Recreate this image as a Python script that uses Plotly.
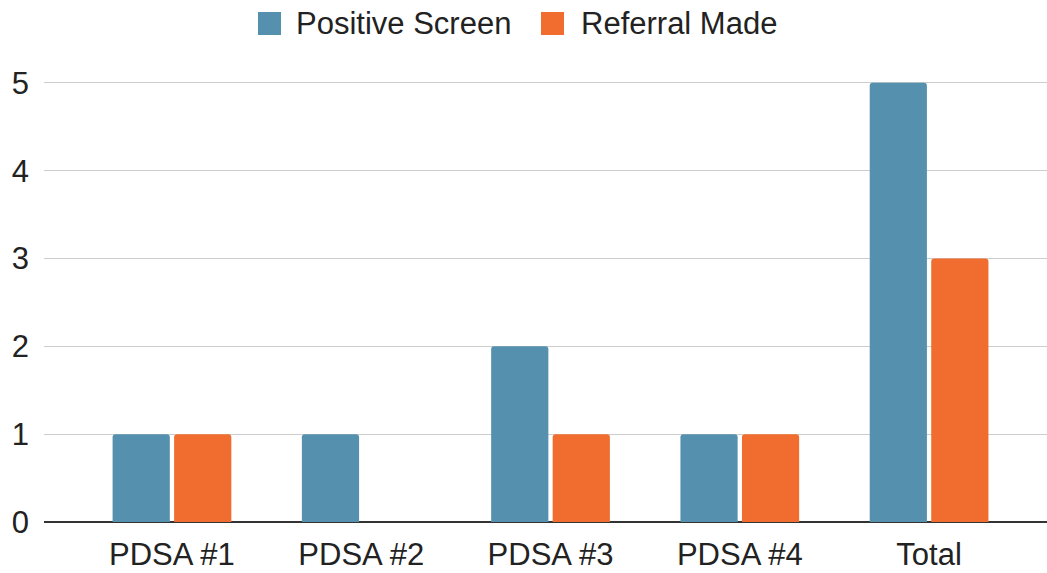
import plotly.graph_objects as go

categories = ["PDSA #1", "PDSA #2", "PDSA #3", "PDSA #4", "Total"]
positive_screen = [1, 1, 2, 1, 5]
referral_made = [1, 0, 1, 1, 3]
series_names = ["Positive Screen", "Referral Made"]
y_ticks = [0, 1, 2, 3, 4, 5]

BLUE = "#5591AE"
ORANGE = "#F06D2F"
TEXT = "#222222"
FONT = "Arial, Liberation Sans, sans-serif"
FS = 31

W, H = 1047, 573
ML, MR, MT, MB = 44, 0, 60, 51
PW, PH = W - ML - MR, H - MT - MB


def px_x(x):
    return (x - ML) / PW


def px_y(y):
    return (H - MB - y) / PH


fig = go.Figure()
fig.add_trace(go.Bar(x=categories, y=positive_screen, name=series_names[0],
                     marker=dict(color=BLUE, line=dict(width=0))))
fig.add_trace(go.Bar(x=categories, y=referral_made, name=series_names[1],
                     marker=dict(color=ORANGE, line=dict(width=0))))

# custom legend: larger swatches than plotly's built-in bar icons
legend_items = [(258, 281, 294, series_names[0], BLUE),
                (541, 564, 579, series_names[1], ORANGE)]
shapes, annotations = [], []
for x0, x1, tx, label, color in legend_items:
    shapes.append(dict(type="rect", xref="paper", yref="paper",
                       x0=px_x(x0), x1=px_x(x1), y0=px_y(35), y1=px_y(12),
                       fillcolor=color, line=dict(width=0)))
    annotations.append(dict(xref="paper", yref="paper", x=px_x(tx), y=px_y(23.5),
                            xanchor="left", yanchor="middle", showarrow=False,
                            text=label, font=dict(size=FS, color=TEXT, family=FONT)))

fig.update_layout(
    width=W, height=H,
    margin=dict(l=ML, r=MR, t=MT, b=MB),
    paper_bgcolor="white", plot_bgcolor="white",
    barmode="group", bargap=0.35, bargroupgap=0.07, barcornerradius=3,
    showlegend=False,
    font=dict(family=FONT, size=FS, color=TEXT),
    shapes=shapes, annotations=annotations,
    xaxis=dict(range=[-0.676, 4.623], showgrid=False, zeroline=False,
               showline=False, ticks="", ticklabelstandoff=11,
               tickfont=dict(size=FS, color=TEXT)),
    yaxis=dict(range=[0, 5.26], tickvals=y_ticks, showgrid=True,
               gridcolor="#CCCCCC", gridwidth=1, zeroline=True,
               zerolinecolor="#333333", zerolinewidth=2, showline=False,
               ticks="", ticklabelstandoff=14,
               tickfont=dict(size=FS, color=TEXT)),
)

fig.write_html("out.html")
